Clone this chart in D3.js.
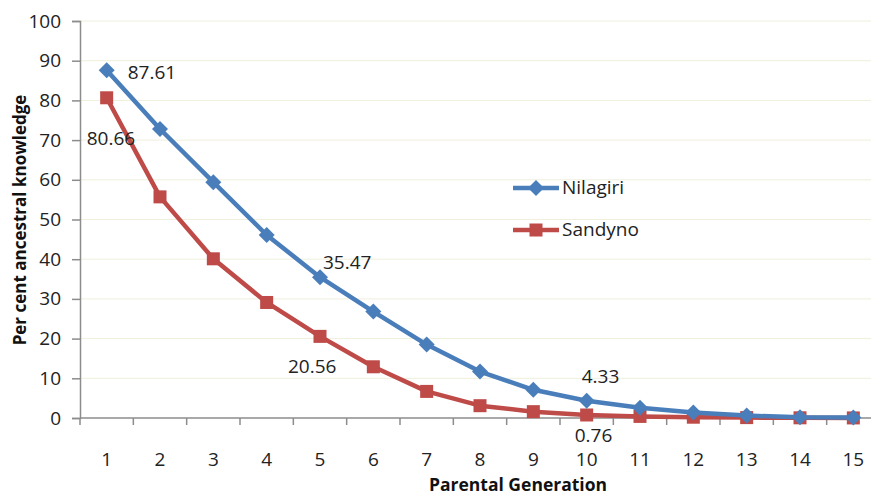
<!DOCTYPE html>
<html>
<head>
<meta charset="utf-8">
<script src="https://cdn.jsdelivr.net/npm/d3@7"></script>
<style>
  html, body { margin: 0; padding: 0; background: #fff; }
  svg { display: block; font-family: "Open Sans", Lato, sans-serif; }
</style>
</head>
<body>
<svg id="chart" width="871" height="495"></svg>
<script>
// Share of ancestral knowledge retained across parental generations
const generations = [1, 2, 3, 4, 5, 6, 7, 8, 9, 10, 11, 12, 13, 14, 15];
const nilagiri = [87.61, 72.8, 59.4, 46.1, 35.47, 26.8, 18.5, 11.7, 7.1, 4.33, 2.6, 1.4, 0.6, 0.2, 0.1];
const sandyno  = [80.66, 55.7, 40.1, 29.1, 20.56, 12.9, 6.7, 3.1, 1.6, 0.76, 0.4, 0.2, 0.1, 0.05, 0.02];
const yTicks = [0, 10, 20, 30, 40, 50, 60, 70, 80, 90, 100];
const seriesNames = ["Nilagiri", "Sandyno"];
const seriesColors = ["#4a7ebb", "#be4b48"];
// Point labels shown on the chart: [series index, generation index]
const labelled = [[0, 0], [1, 0], [0, 4], [1, 4], [0, 9], [1, 9]];

const FONT_SIZE = 19;
const svg = d3.select("#chart");
const x = d3.scaleBand().domain(generations).range([80, 880]);
const y = d3.scaleLinear().domain([0, 100]).range([418, 21]);

// Light horizontal gridlines
svg.append("g")
  .selectAll("line")
  .data(yTicks.filter(d => d > 0))
  .join("line")
  .attr("x1", 80).attr("x2", 880)
  .attr("y1", d => y(d)).attr("y2", d => y(d))
  .attr("stroke", "#efefdc").attr("stroke-width", 1);

// Y axis
const yAxis = svg.append("g")
  .attr("transform", "translate(80,0)")
  .call(d3.axisLeft(y).tickValues(yTicks).tickSize(8).tickPadding(11));
yAxis.select(".domain").attr("stroke", "#8c8c8c").attr("stroke-width", 1.5);
yAxis.selectAll(".tick line").attr("stroke", "#8c8c8c").attr("stroke-width", 1.5);
yAxis.selectAll(".tick text").attr("font-size", FONT_SIZE).attr("fill", "#222")
  .attr("font-family", "'Open Sans', sans-serif");

// X axis: ticks sit on category boundaries, labels at category centres
const xAxisG = svg.append("g").attr("transform", "translate(0,418)");
xAxisG.append("line")
  .attr("x1", 80).attr("x2", 880)
  .attr("stroke", "#8c8c8c").attr("stroke-width", 1.5);
xAxisG.selectAll("line.tk")
  .data(generations.concat([null]))
  .join("line")
  .attr("class", "tk")
  .attr("x1", (d, i) => 80 + i * x.step())
  .attr("x2", (d, i) => 80 + i * x.step())
  .attr("y1", 0).attr("y2", 7)
  .attr("stroke", "#8c8c8c").attr("stroke-width", 1.5);
xAxisG.selectAll("text")
  .data(generations)
  .join("text")
  .attr("x", d => x(d) + x.bandwidth() / 2)
  .attr("y", 48)
  .attr("text-anchor", "middle")
  .attr("font-size", FONT_SIZE)
  .attr("fill", "#222")
  .text(d => d);

// Axis titles
svg.append("text")
  .attr("x", 518).attr("y", 491)
  .attr("text-anchor", "middle")
  .attr("font-size", 17.5).attr("font-weight", "bold").attr("fill", "#111")
  .text("Parental Generation");
svg.append("text")
  .attr("transform", "translate(26,220) rotate(-90)")
  .attr("text-anchor", "middle")
  .attr("font-size", 17).attr("font-weight", "bold").attr("fill", "#111")
  .text("Per cent ancestral knowledge");

const cx = d => x(d) + x.bandwidth() / 2;
const line = d3.line().x(d => cx(d.g)).y(d => y(d.v));
const data = [nilagiri, sandyno].map(vals => generations.map((g, i) => ({ g, v: vals[i] })));

function drawMarker(sel, s) {
  if (s === 0) {
    sel.append("path")
      .attr("d", d3.symbol().type(d3.symbolSquare).size(128)())
      .attr("transform", "rotate(45)")
      .attr("fill", seriesColors[0]);
  } else {
    sel.append("rect")
      .attr("x", -6.5).attr("y", -6.5).attr("width", 13).attr("height", 13)
      .attr("fill", seriesColors[1]);
  }
}

// Red series first so the blue one sits on top
[1, 0].forEach(s => {
  svg.append("path")
    .datum(data[s])
    .attr("d", line)
    .attr("fill", "none")
    .attr("stroke", seriesColors[s])
    .attr("stroke-width", 4.5)
    .attr("stroke-linejoin", "round");
  svg.append("g").selectAll("g")
    .data(data[s])
    .join("g")
    .attr("transform", d => `translate(${cx(d.g)},${y(d.v)})`)
    .each(function () { drawMarker(d3.select(this), s); });
});

// Value labels, offset from their points
const labelOffsets = {
  "0-0": [21, 9],
  "1-0": [-20, 47],
  "0-4": [3, -8],
  "1-4": [-32, 37],
  "0-9": [-5, -18],
  "1-9": [-12, 27]
};
labelled.forEach(([s, i]) => {
  const vals = s === 0 ? nilagiri : sandyno;
  const off = labelOffsets[`${s}-${i}`];
  svg.append("text")
    .attr("x", cx(generations[i]) + off[0])
    .attr("y", y(vals[i]) + off[1])
    .attr("font-size", FONT_SIZE)
    .attr("fill", "#222")
    .text(vals[i].toFixed(2));
});

// Legend
seriesNames.forEach((name, s) => {
  const ly = s === 0 ? 188 : 230;
  const g = svg.append("g").attr("transform", `translate(513,${ly})`);
  g.append("line").attr("x1", 0).attr("x2", 46)
    .attr("stroke", seriesColors[s]).attr("stroke-width", 4.5);
  const m = g.append("g").attr("transform", "translate(23,0)");
  drawMarker(m, s);
  g.append("text").attr("x", 49).attr("y", 6)
    .attr("font-size", FONT_SIZE).attr("fill", "#222").text(name);
});
</script>
</body>
</html>
